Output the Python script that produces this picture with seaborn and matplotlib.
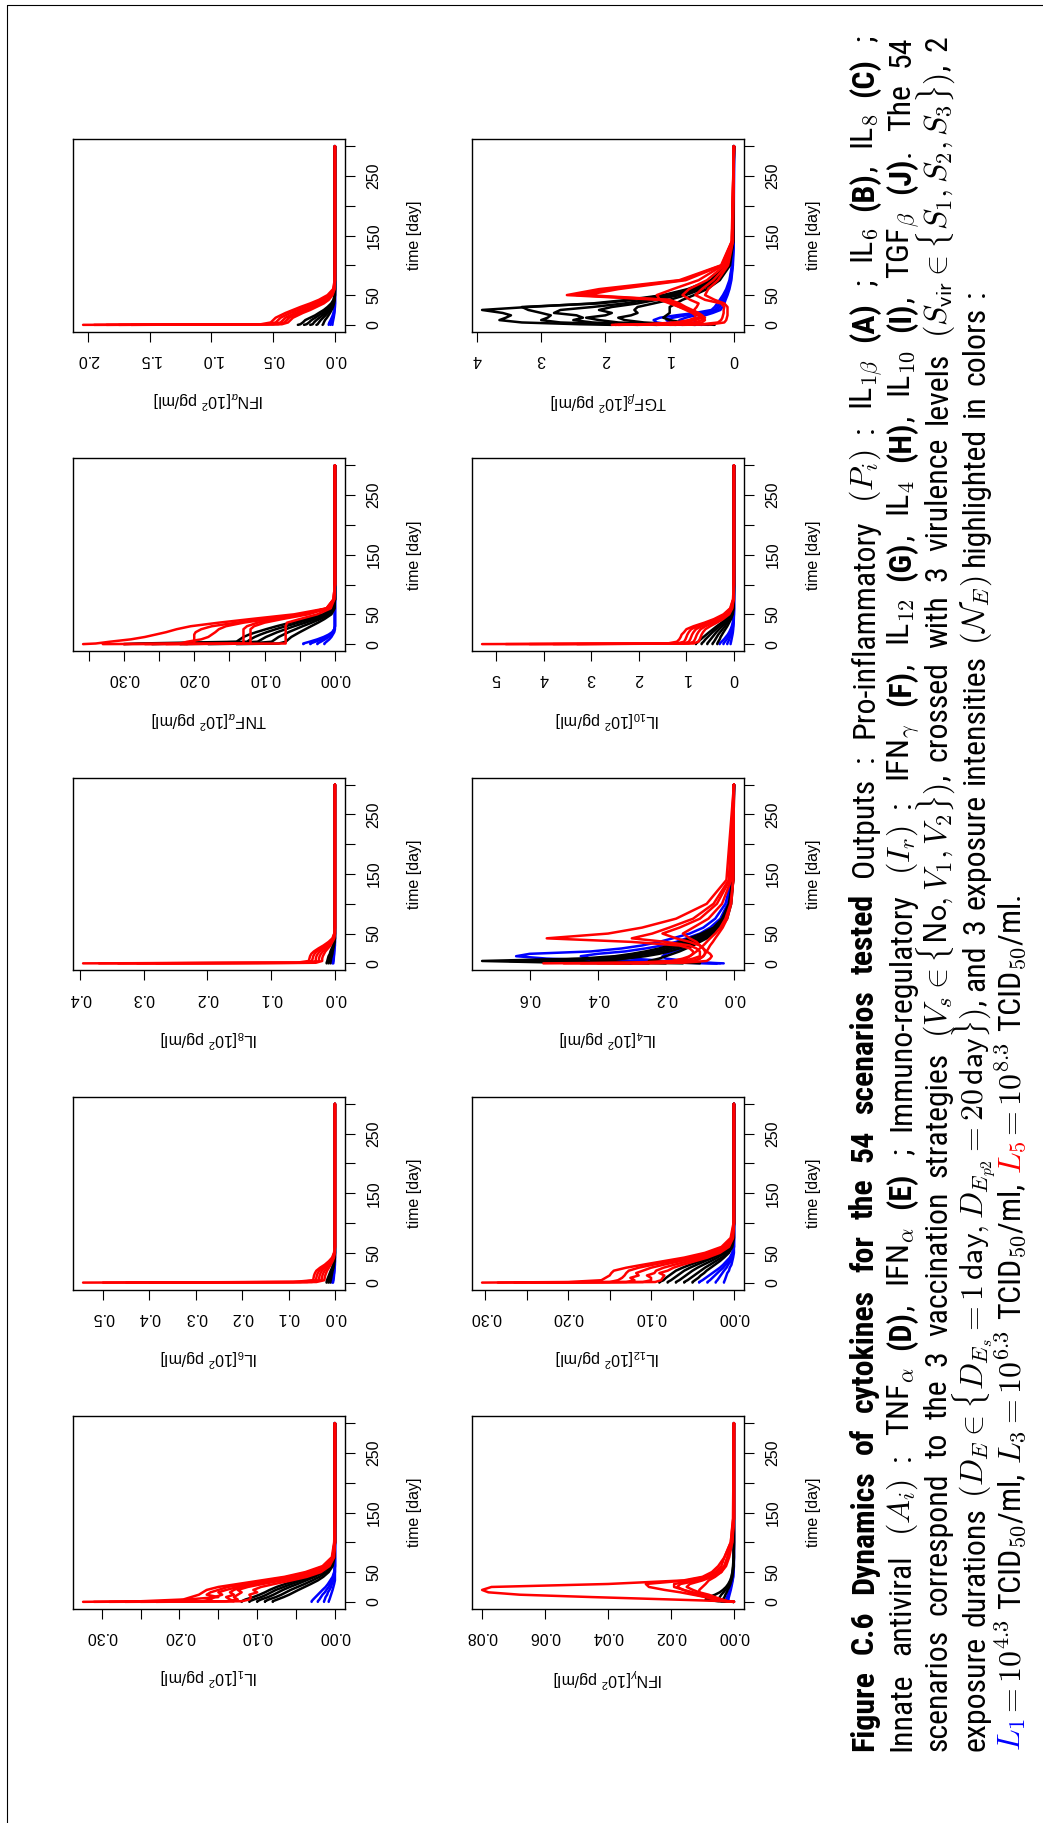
import re
import matplotlib
matplotlib.use("Agg")
import matplotlib.pyplot as plt
from matplotlib import font_manager
from matplotlib.lines import Line2D
import seaborn as sns

# time points (days) shared by every curve
TIME = [0, 1, 4, 8, 12, 16, 20, 25, 30, 36, 42, 50, 60, 75, 100, 140, 300]

# ---- IL1 (A) ----
IL1_RED = [
    [0.324, 0.25, 0.195, 0.185, 0.175, 0.17, 0.165, 0.15, 0.125, 0.095, 0.065, 0.038, 0.016, 0.004, 0.001, 0, 0],
    [0.31, 0.21, 0.19, 0.15, 0.165, 0.16, 0.15, 0.138, 0.115, 0.088, 0.06, 0.034, 0.014, 0.003, 0.0005, 0, 0],
    [0.29, 0.17, 0.16, 0.155, 0.145, 0.15, 0.14, 0.125, 0.105, 0.078, 0.053, 0.029, 0.011, 0.003, 0, 0, 0],
    [0.27, 0.14, 0.125, 0.13, 0.125, 0.12, 0.125, 0.112, 0.093, 0.068, 0.045, 0.024, 0.009, 0.002, 0, 0, 0],
    [0.25, 0.12, 0.11, 0.108, 0.11, 0.1, 0.105, 0.095, 0.078, 0.056, 0.036, 0.018, 0.007, 0.001, 0, 0, 0],
    [0.23, 0.13, 0.135, 0.14, 0.13, 0.135, 0.13, 0.12, 0.1, 0.074, 0.05, 0.027, 0.01, 0.002, 0, 0, 0],
]
IL1_BLACK = [
    [0.12, 0.12, 0.115, 0.105, 0.097, 0.09, 0.084, 0.075, 0.064, 0.05, 0.037, 0.022, 0.01, 0.003, 0.0005, 0, 0],
    [0.11, 0.11, 0.104, 0.095, 0.088, 0.082, 0.076, 0.066, 0.056, 0.043, 0.031, 0.018, 0.008, 0.002, 0, 0, 0],
    [0.1, 0.1, 0.095, 0.086, 0.079, 0.073, 0.067, 0.058, 0.048, 0.037, 0.026, 0.015, 0.006, 0.0015, 0, 0, 0],
    [0.09, 0.09, 0.085, 0.076, 0.069, 0.063, 0.057, 0.048, 0.039, 0.029, 0.02, 0.011, 0.004, 0.001, 0, 0, 0],
    [0.08, 0.08, 0.074, 0.066, 0.059, 0.053, 0.047, 0.039, 0.031, 0.022, 0.015, 0.008, 0.003, 0.0005, 0, 0, 0],
]
IL1_BLUE = [
    [0.03, 0.03, 0.028, 0.025, 0.022, 0.019, 0.016, 0.012, 0.009, 0.006, 0.003, 0.001, 0, 0, 0, 0, 0],
    [0.022, 0.022, 0.02, 0.018, 0.016, 0.013, 0.011, 0.008, 0.006, 0.004, 0.002, 0.0005, 0, 0, 0, 0, 0],
    [0.014, 0.014, 0.013, 0.012, 0.01, 0.009, 0.007, 0.005, 0.004, 0.002, 0.001, 0, 0, 0, 0, 0, 0],
    [0.008, 0.008, 0.007, 0.006, 0.005, 0.004, 0.003, 0.002, 0.001, 0, 0, 0, 0, 0, 0, 0, 0],
]

# ---- IL6 (B) ----
IL6_RED = [
    [0.543, 0.09, 0.047, 0.046, 0.045, 0.043, 0.04, 0.032, 0.022, 0.013, 0.006, 0.002, 0, 0, 0, 0, 0],
    [0.5, 0.075, 0.041, 0.04, 0.039, 0.037, 0.034, 0.027, 0.019, 0.011, 0.005, 0.0015, 0, 0, 0, 0, 0],
    [0.45, 0.06, 0.035, 0.034, 0.033, 0.031, 0.028, 0.022, 0.015, 0.009, 0.004, 0.001, 0, 0, 0, 0, 0],
    [0.4, 0.05, 0.029, 0.028, 0.027, 0.025, 0.022, 0.017, 0.012, 0.007, 0.003, 0.001, 0, 0, 0, 0, 0],
    [0.35, 0.04, 0.023, 0.022, 0.021, 0.019, 0.017, 0.013, 0.009, 0.005, 0.002, 0.0005, 0, 0, 0, 0, 0],
]
IL6_BLACK = [
    [0.018, 0.018, 0.017, 0.015, 0.013, 0.011, 0.009, 0.006, 0.004, 0.002, 0.001, 0, 0, 0, 0, 0, 0],
    [0.014, 0.014, 0.013, 0.012, 0.01, 0.008, 0.007, 0.005, 0.003, 0.0015, 0.0005, 0, 0, 0, 0, 0, 0],
    [0.01, 0.01, 0.009, 0.008, 0.007, 0.006, 0.005, 0.003, 0.002, 0.001, 0, 0, 0, 0, 0, 0, 0],
]
IL6_BLUE = [
    [0.006, 0.006, 0.005, 0.004, 0.003, 0.002, 0.0015, 0.001, 0.0005, 0, 0, 0, 0, 0, 0, 0, 0],
    [0.004, 0.004, 0.003, 0.0025, 0.002, 0.0015, 0.001, 0.0005, 0, 0, 0, 0, 0, 0, 0, 0, 0],
]

# ---- IL8 (C) ----
IL8_RED = [
    [0.395, 0.06, 0.041, 0.04, 0.039, 0.037, 0.033, 0.026, 0.018, 0.01, 0.004, 0.001, 0, 0, 0, 0, 0],
    [0.37, 0.05, 0.036, 0.035, 0.034, 0.032, 0.029, 0.022, 0.015, 0.008, 0.003, 0.001, 0, 0, 0, 0, 0],
    [0.34, 0.04, 0.03, 0.03, 0.029, 0.027, 0.024, 0.018, 0.012, 0.006, 0.002, 0.0005, 0, 0, 0, 0, 0],
    [0.31, 0.035, 0.025, 0.025, 0.024, 0.022, 0.019, 0.014, 0.009, 0.005, 0.002, 0, 0, 0, 0, 0, 0],
    [0.28, 0.03, 0.02, 0.02, 0.019, 0.017, 0.015, 0.011, 0.007, 0.004, 0.001, 0, 0, 0, 0, 0, 0],
]
IL8_BLACK = [
    [0.013, 0.013, 0.012, 0.011, 0.01, 0.008, 0.007, 0.005, 0.003, 0.0015, 0.0005, 0, 0, 0, 0, 0, 0],
    [0.01, 0.01, 0.009, 0.008, 0.007, 0.006, 0.005, 0.0035, 0.002, 0.001, 0, 0, 0, 0, 0, 0, 0],
    [0.007, 0.007, 0.0065, 0.006, 0.005, 0.004, 0.0035, 0.0025, 0.0015, 0.0005, 0, 0, 0, 0, 0, 0, 0],
]
IL8_BLUE = [
    [0.004, 0.004, 0.0035, 0.003, 0.0025, 0.002, 0.0015, 0.001, 0.0005, 0, 0, 0, 0, 0, 0, 0, 0],
    [0.0025, 0.0025, 0.002, 0.0018, 0.0015, 0.001, 0.0008, 0.0005, 0, 0, 0, 0, 0, 0, 0, 0, 0],
]

# ---- TNFa (D) ----
TNF_RED = [
    [0.358, 0.34, 0.32, 0.29, 0.27, 0.255, 0.24, 0.225, 0.205, 0.165, 0.12, 0.058, 0.012, 0.002, 0, 0, 0],
    [0.33, 0.2, 0.2, 0.2, 0.2, 0.2, 0.198, 0.19, 0.175, 0.14, 0.1, 0.048, 0.01, 0.0015, 0, 0, 0],
    [0.3, 0.13, 0.13, 0.13, 0.13, 0.13, 0.13, 0.13, 0.125, 0.11, 0.085, 0.045, 0.012, 0.002, 0, 0, 0],
    [0.27, 0.12, 0.12, 0.12, 0.12, 0.12, 0.12, 0.12, 0.115, 0.1, 0.075, 0.038, 0.01, 0.001, 0, 0, 0],
    [0.24, 0.07, 0.07, 0.07, 0.07, 0.07, 0.07, 0.07, 0.07, 0.068, 0.05, 0.025, 0.006, 0.001, 0, 0, 0],
    [0.21, 0.22, 0.21, 0.19, 0.18, 0.175, 0.17, 0.165, 0.155, 0.13, 0.095, 0.045, 0.011, 0.002, 0, 0, 0],
]
TNF_BLACK = [
    [0.3, 0.28, 0.14, 0.135, 0.13, 0.122, 0.112, 0.098, 0.083, 0.063, 0.042, 0.017, 0.003, 0, 0, 0, 0],
    [0.26, 0.22, 0.125, 0.12, 0.114, 0.106, 0.097, 0.084, 0.07, 0.052, 0.034, 0.013, 0.002, 0, 0, 0, 0],
    [0.22, 0.16, 0.11, 0.104, 0.098, 0.09, 0.082, 0.07, 0.058, 0.042, 0.027, 0.01, 0.0015, 0, 0, 0, 0],
    [0.18, 0.12, 0.09, 0.085, 0.08, 0.073, 0.066, 0.056, 0.046, 0.033, 0.021, 0.007, 0.001, 0, 0, 0, 0],
    [0.14, 0.08, 0.07, 0.066, 0.062, 0.056, 0.05, 0.042, 0.034, 0.024, 0.015, 0.005, 0.0005, 0, 0, 0, 0],
]
TNF_BLUE = [
    [0.045, 0.045, 0.036, 0.025, 0.016, 0.009, 0.004, 0.001, 0, 0, 0, 0, 0, 0, 0, 0, 0],
    [0.035, 0.035, 0.028, 0.019, 0.012, 0.007, 0.003, 0.001, 0, 0, 0, 0, 0, 0, 0, 0, 0],
    [0.025, 0.025, 0.02, 0.014, 0.009, 0.005, 0.002, 0.0005, 0, 0, 0, 0, 0, 0, 0, 0, 0],
    [0.015, 0.015, 0.012, 0.008, 0.005, 0.003, 0.001, 0, 0, 0, 0, 0, 0, 0, 0, 0, 0],
]

# ---- IFNa (E) ----
IFNA_RED = [
    [2.04, 0.6, 0.52, 0.5, 0.48, 0.44, 0.4, 0.34, 0.28, 0.2, 0.13, 0.06, 0.015, 0.002, 0, 0, 0],
    [1.95, 0.55, 0.48, 0.46, 0.44, 0.4, 0.36, 0.3, 0.24, 0.17, 0.1, 0.045, 0.01, 0.001, 0, 0, 0],
    [1.85, 0.5, 0.44, 0.42, 0.4, 0.36, 0.32, 0.26, 0.2, 0.14, 0.08, 0.035, 0.008, 0, 0, 0, 0],
    [1.75, 0.46, 0.41, 0.39, 0.37, 0.33, 0.29, 0.23, 0.17, 0.11, 0.06, 0.025, 0.005, 0, 0, 0, 0],
    [1.65, 0.43, 0.38, 0.36, 0.34, 0.3, 0.26, 0.2, 0.15, 0.09, 0.05, 0.02, 0.003, 0, 0, 0, 0],
]
IFNA_BLACK = [
    [0.3, 0.28, 0.26, 0.24, 0.2, 0.16, 0.13, 0.09, 0.06, 0.03, 0.012, 0.003, 0, 0, 0, 0, 0],
    [0.25, 0.23, 0.21, 0.19, 0.16, 0.13, 0.1, 0.07, 0.045, 0.022, 0.008, 0.002, 0, 0, 0, 0, 0],
    [0.2, 0.18, 0.17, 0.15, 0.125, 0.1, 0.078, 0.053, 0.033, 0.016, 0.006, 0.001, 0, 0, 0, 0, 0],
    [0.15, 0.14, 0.13, 0.115, 0.095, 0.076, 0.058, 0.039, 0.024, 0.011, 0.004, 0, 0, 0, 0, 0, 0],
    [0.1, 0.095, 0.09, 0.08, 0.065, 0.052, 0.04, 0.027, 0.016, 0.007, 0.002, 0, 0, 0, 0, 0, 0],
]
IFNA_BLUE = [
    [0.05, 0.05, 0.045, 0.035, 0.026, 0.018, 0.012, 0.006, 0.002, 0, 0, 0, 0, 0, 0, 0, 0],
    [0.035, 0.035, 0.03, 0.024, 0.018, 0.012, 0.008, 0.004, 0.001, 0, 0, 0, 0, 0, 0, 0, 0],
    [0.02, 0.02, 0.018, 0.014, 0.01, 0.007, 0.004, 0.002, 0, 0, 0, 0, 0, 0, 0, 0, 0],
]

# ---- IFNg (F) ----
IFNG_RED = [
    [0.0, 0.002, 0.02, 0.045, 0.068, 0.078, 0.08, 0.077, 0.04, 0.016, 0.01, 0.007, 0.005, 0.003, 0.001, 0.0003, 0],
    [0.0, 0.002, 0.005, 0.009, 0.013, 0.017, 0.022, 0.027, 0.028, 0.015, 0.009, 0.006, 0.004, 0.003, 0.001, 0.0002, 0],
    [0.0, 0.002, 0.004, 0.007, 0.01, 0.013, 0.016, 0.019, 0.019, 0.012, 0.008, 0.005, 0.003, 0.002, 0.0008, 0, 0],
    [0.0, 0.002, 0.004, 0.006, 0.008, 0.011, 0.013, 0.015, 0.014, 0.01, 0.007, 0.004, 0.003, 0.002, 0.0006, 0, 0],
    [0.0, 0.002, 0.005, 0.008, 0.01, 0.011, 0.011, 0.01, 0.009, 0.008, 0.006, 0.004, 0.0025, 0.0015, 0.0005, 0, 0],
    [0.0, 0.003, 0.006, 0.009, 0.012, 0.014, 0.016, 0.018, 0.017, 0.011, 0.008, 0.005, 0.003, 0.002, 0.0007, 0, 0],
]
IFNG_BLACK = [
    [0.0, 0.005, 0.009, 0.008, 0.006, 0.0045, 0.0035, 0.0025, 0.0018, 0.0012, 0.0008, 0.0005, 0.0003, 0.0001, 0, 0, 0],
    [0.0, 0.004, 0.005, 0.0045, 0.004, 0.0033, 0.0027, 0.002, 0.0015, 0.001, 0.0007, 0.0004, 0.0002, 0.0001, 0, 0, 0],
    [0.0, 0.003, 0.0035, 0.003, 0.0027, 0.0023, 0.002, 0.0015, 0.0011, 0.0008, 0.0005, 0.0003, 0.0001, 0, 0, 0, 0],
]
IFNG_BLUE = [
    [0.0, 0.002, 0.0025, 0.0022, 0.0019, 0.0016, 0.0013, 0.001, 0.0008, 0.0005, 0.0003, 0.0002, 0.0001, 0, 0, 0, 0],
    [0.0, 0.0015, 0.0018, 0.0016, 0.0014, 0.0012, 0.001, 0.0008, 0.0006, 0.0004, 0.0002, 0.0001, 0, 0, 0, 0, 0],
]

# ---- IL12 (G) ----
IL12_RED = [
    [0.304, 0.2, 0.16, 0.155, 0.15, 0.148, 0.145, 0.13, 0.11, 0.085, 0.06, 0.035, 0.015, 0.004, 0.0005, 0, 0],
    [0.285, 0.15, 0.14, 0.135, 0.132, 0.13, 0.127, 0.115, 0.098, 0.075, 0.053, 0.03, 0.012, 0.003, 0, 0, 0],
    [0.265, 0.13, 0.12, 0.125, 0.115, 0.118, 0.11, 0.1, 0.085, 0.065, 0.045, 0.025, 0.01, 0.002, 0, 0, 0],
    [0.245, 0.11, 0.1, 0.1, 0.105, 0.096, 0.094, 0.085, 0.072, 0.055, 0.038, 0.02, 0.008, 0.0015, 0, 0, 0],
    [0.225, 0.095, 0.088, 0.086, 0.084, 0.09, 0.08, 0.073, 0.062, 0.047, 0.032, 0.017, 0.006, 0.001, 0, 0, 0],
]
IL12_BLACK = [
    [0.09, 0.09, 0.085, 0.082, 0.078, 0.074, 0.07, 0.062, 0.053, 0.041, 0.03, 0.017, 0.007, 0.0015, 0, 0, 0],
    [0.08, 0.08, 0.076, 0.072, 0.068, 0.064, 0.06, 0.053, 0.045, 0.035, 0.025, 0.014, 0.006, 0.001, 0, 0, 0],
    [0.07, 0.07, 0.066, 0.062, 0.058, 0.054, 0.05, 0.044, 0.037, 0.028, 0.02, 0.011, 0.004, 0.001, 0, 0, 0],
    [0.06, 0.06, 0.056, 0.052, 0.048, 0.044, 0.04, 0.035, 0.029, 0.022, 0.015, 0.008, 0.003, 0.0005, 0, 0, 0],
    [0.05, 0.05, 0.047, 0.043, 0.04, 0.036, 0.033, 0.028, 0.023, 0.017, 0.012, 0.006, 0.002, 0, 0, 0, 0],
]
IL12_BLUE = [
    [0.042, 0.042, 0.038, 0.034, 0.03, 0.026, 0.022, 0.017, 0.013, 0.009, 0.005, 0.002, 0.0005, 0, 0, 0, 0],
    [0.032, 0.032, 0.029, 0.026, 0.023, 0.02, 0.017, 0.013, 0.01, 0.006, 0.004, 0.0015, 0, 0, 0, 0, 0],
    [0.022, 0.022, 0.02, 0.018, 0.016, 0.014, 0.012, 0.009, 0.007, 0.004, 0.002, 0.001, 0, 0, 0, 0, 0],
    [0.012, 0.012, 0.011, 0.01, 0.009, 0.008, 0.006, 0.005, 0.003, 0.002, 0.001, 0, 0, 0, 0, 0, 0],
]

# ---- IL4 (H) ----
IL4_RED = [
    [0.56, 0.3, 0.18, 0.14, 0.13, 0.12, 0.12, 0.13, 0.16, 0.3, 0.55, 0.37, 0.27, 0.17, 0.08, 0.022, 0],
    [0.5, 0.25, 0.15, 0.12, 0.1, 0.1, 0.1, 0.11, 0.13, 0.2, 0.3, 0.24, 0.19, 0.12, 0.06, 0.015, 0],
    [0.45, 0.2, 0.12, 0.1, 0.09, 0.085, 0.085, 0.09, 0.1, 0.13, 0.17, 0.21, 0.16, 0.1, 0.05, 0.012, 0],
    [0.4, 0.25, 0.18, 0.15, 0.13, 0.12, 0.11, 0.1, 0.09, 0.08, 0.07, 0.055, 0.04, 0.025, 0.01, 0.002, 0],
    [0.35, 0.2, 0.12, 0.1, 0.09, 0.085, 0.08, 0.075, 0.07, 0.062, 0.055, 0.045, 0.033, 0.02, 0.008, 0.002, 0],
    [0.3, 0.15, 0.08, 0.07, 0.065, 0.07, 0.08, 0.09, 0.1, 0.11, 0.13, 0.15, 0.12, 0.075, 0.035, 0.008, 0],
]
IL4_BLACK = [
    [0.3, 0.5, 0.74, 0.45, 0.35, 0.3, 0.26, 0.22, 0.19, 0.16, 0.13, 0.095, 0.06, 0.035, 0.015, 0.004, 0],
    [0.25, 0.45, 0.66, 0.42, 0.32, 0.27, 0.23, 0.2, 0.17, 0.14, 0.115, 0.085, 0.055, 0.03, 0.013, 0.003, 0],
    [0.2, 0.35, 0.55, 0.38, 0.3, 0.25, 0.21, 0.18, 0.15, 0.125, 0.1, 0.075, 0.048, 0.027, 0.011, 0.003, 0],
    [0.15, 0.25, 0.42, 0.32, 0.26, 0.22, 0.19, 0.16, 0.135, 0.11, 0.09, 0.066, 0.042, 0.023, 0.01, 0.002, 0],
    [0.1, 0.15, 0.25, 0.22, 0.2, 0.18, 0.16, 0.14, 0.12, 0.1, 0.08, 0.06, 0.038, 0.02, 0.008, 0.002, 0],
]
IL4_BLUE = [
    [0.05, 0.15, 0.35, 0.55, 0.64, 0.6, 0.42, 0.33, 0.27, 0.22, 0.18, 0.13, 0.09, 0.055, 0.025, 0.007, 0],
    [0.05, 0.12, 0.28, 0.42, 0.45, 0.4, 0.32, 0.26, 0.21, 0.17, 0.14, 0.1, 0.07, 0.04, 0.018, 0.005, 0],
    [0.04, 0.1, 0.2, 0.3, 0.32, 0.29, 0.25, 0.21, 0.17, 0.14, 0.11, 0.08, 0.055, 0.032, 0.014, 0.004, 0],
    [0.03, 0.08, 0.14, 0.2, 0.21, 0.2, 0.18, 0.15, 0.13, 0.11, 0.09, 0.065, 0.045, 0.026, 0.011, 0.003, 0],
]

# ---- IL10 (I) ----
IL10_RED = [
    [5.3, 1.4, 1.2, 1.15, 1.12, 1.1, 1.05, 1.0, 0.85, 0.62, 0.42, 0.22, 0.08, 0.02, 0.003, 0, 0],
    [4.8, 1.2, 1.05, 1.02, 1.0, 0.98, 0.95, 0.9, 0.77, 0.56, 0.37, 0.19, 0.07, 0.015, 0.002, 0, 0],
    [4.3, 1.05, 0.95, 0.92, 0.9, 0.88, 0.85, 0.8, 0.68, 0.5, 0.33, 0.16, 0.06, 0.012, 0.002, 0, 0],
    [3.8, 0.95, 0.85, 0.82, 0.8, 0.78, 0.75, 0.7, 0.6, 0.43, 0.28, 0.13, 0.045, 0.01, 0.001, 0, 0],
    [3.3, 0.85, 0.75, 0.72, 0.7, 0.68, 0.65, 0.6, 0.5, 0.36, 0.23, 0.1, 0.035, 0.008, 0, 0, 0],
]
IL10_BLACK = [
    [0.8, 0.8, 0.75, 0.7, 0.64, 0.58, 0.52, 0.44, 0.36, 0.26, 0.17, 0.08, 0.025, 0.005, 0, 0, 0],
    [0.68, 0.68, 0.64, 0.6, 0.55, 0.5, 0.45, 0.38, 0.31, 0.22, 0.14, 0.065, 0.02, 0.004, 0, 0, 0],
    [0.56, 0.56, 0.53, 0.49, 0.45, 0.41, 0.37, 0.31, 0.25, 0.18, 0.11, 0.05, 0.015, 0.003, 0, 0, 0],
    [0.45, 0.45, 0.42, 0.39, 0.36, 0.33, 0.29, 0.24, 0.19, 0.14, 0.085, 0.038, 0.011, 0.002, 0, 0, 0],
    [0.35, 0.35, 0.33, 0.3, 0.28, 0.25, 0.22, 0.18, 0.14, 0.1, 0.06, 0.026, 0.007, 0.001, 0, 0, 0],
]
IL10_BLUE = [
    [0.3, 0.3, 0.26, 0.21, 0.17, 0.13, 0.1, 0.07, 0.045, 0.025, 0.012, 0.004, 0, 0, 0, 0, 0],
    [0.22, 0.22, 0.19, 0.15, 0.12, 0.09, 0.07, 0.05, 0.03, 0.017, 0.008, 0.002, 0, 0, 0, 0, 0],
    [0.14, 0.14, 0.12, 0.1, 0.08, 0.06, 0.045, 0.03, 0.02, 0.01, 0.005, 0.001, 0, 0, 0, 0, 0],
    [0.07, 0.07, 0.06, 0.05, 0.04, 0.03, 0.022, 0.015, 0.01, 0.005, 0.002, 0, 0, 0, 0, 0, 0],
]

# ---- TGFb (J) ----
TGFB_RED = [
    [1.9, 1.4, 0.9, 0.7, 0.6, 0.6, 0.65, 0.75, 0.85, 0.95, 1.15, 2.6, 2.1, 0.85, 0.2, 0.035, 0],
    [1.85, 1.3, 0.85, 0.65, 0.55, 0.55, 0.6, 0.7, 0.8, 0.9, 1.05, 2.45, 1.95, 0.8, 0.19, 0.03, 0],
    [1.8, 1.2, 0.8, 0.6, 0.5, 0.5, 0.55, 0.65, 0.75, 0.85, 1.0, 2.3, 1.8, 0.75, 0.18, 0.03, 0],
    [1.5, 1.0, 0.6, 0.5, 0.45, 0.5, 0.6, 0.7, 0.85, 1.0, 1.15, 1.2, 0.95, 0.55, 0.17, 0.03, 0],
    [1.2, 0.8, 0.5, 0.45, 0.48, 0.55, 0.6, 0.62, 0.58, 0.55, 0.68, 0.8, 0.7, 0.42, 0.14, 0.025, 0],
    [1.0, 0.5, 0.25, 0.2, 0.18, 0.17, 0.16, 0.16, 0.15, 0.2, 0.45, 0.6, 0.5, 0.32, 0.11, 0.02, 0],
    [0.8, 0.35, 0.15, 0.12, 0.11, 0.1, 0.1, 0.1, 0.1, 0.15, 0.3, 0.45, 0.4, 0.25, 0.09, 0.015, 0],
]
TGFB_BLACK = [
    [1.9, 2.4, 3.3, 3.65, 3.55, 3.47, 3.6, 3.92, 3.2, 2.2, 1.65, 1.1, 0.72, 0.36, 0.11, 0.02, 0],
    [1.5, 1.9, 2.7, 3.0, 2.9, 2.85, 3.0, 3.2, 3.3, 2.1, 1.55, 1.05, 0.68, 0.34, 0.1, 0.02, 0],
    [1.2, 1.6, 2.2, 2.5, 2.35, 2.45, 2.8, 2.7, 2.2, 1.7, 1.35, 0.95, 0.62, 0.31, 0.09, 0.018, 0],
    [0.9, 1.2, 1.8, 2.1, 2.3, 2.0, 1.9, 2.1, 1.9, 1.5, 1.2, 0.85, 0.56, 0.28, 0.08, 0.015, 0],
    [0.6, 0.9, 1.4, 1.7, 1.8, 1.6, 1.5, 1.55, 1.5, 1.25, 1.0, 0.75, 0.5, 0.25, 0.07, 0.012, 0],
    [0.3, 0.5, 0.8, 1.0, 1.1, 1.05, 1.0, 1.0, 1.0, 0.9, 0.8, 0.62, 0.42, 0.22, 0.06, 0.01, 0],
]
TGFB_BLUE = [
    [0.8, 1.0, 1.2, 1.25, 1.15, 0.9, 0.6, 0.35, 0.3, 0.26, 0.22, 0.17, 0.12, 0.07, 0.03, 0.006, 0],
    [0.6, 0.8, 1.0, 1.05, 0.95, 0.75, 0.5, 0.3, 0.26, 0.22, 0.19, 0.15, 0.1, 0.06, 0.025, 0.005, 0],
    [0.5, 0.65, 0.8, 0.85, 0.75, 0.6, 0.42, 0.26, 0.22, 0.19, 0.16, 0.12, 0.085, 0.05, 0.02, 0.004, 0],
    [0.4, 0.5, 0.6, 0.62, 0.55, 0.45, 0.33, 0.21, 0.18, 0.15, 0.13, 0.1, 0.07, 0.04, 0.016, 0.003, 0],
]

# tick marks / labels on the concentration axis
TICKS_005 = [0, 0.05, 0.10, 0.15, 0.20, 0.25, 0.30]
LABELS_005 = ["0.00", "", "0.10", "", "0.20", "", "0.30"]
TNF_TICKS = [0, 0.05, 0.10, 0.15, 0.20, 0.25, 0.30, 0.35]
TNF_LABELS = ["0.00", "", "0.10", "", "0.20", "", "0.30", ""]
IL6_TICKS = [0, 0.1, 0.2, 0.3, 0.4, 0.5]
IL6_LABELS = ["0.0", "0.1", "0.2", "0.3", "0.4", "0.5"]
IL8_TICKS = [0, 0.1, 0.2, 0.3, 0.4]
IL8_LABELS = ["0.0", "0.1", "0.2", "0.3", "0.4"]
IFNA_TICKS = [0, 0.5, 1.0, 1.5, 2.0]
IFNA_LABELS = ["0.0", "0.5", "1.0", "1.5", "2.0"]
IFNG_TICKS = [0, 0.02, 0.04, 0.06, 0.08]
IFNG_LABELS = ["0.00", "0.02", "0.04", "0.06", "0.08"]
IL4_TICKS = [0, 0.2, 0.4, 0.6]
IL4_LABELS = ["0.0", "0.2", "0.4", "0.6"]
IL10_TICKS = [0, 1, 2, 3, 4, 5]
IL10_LABELS = ["0", "1", "2", "3", "4", "5"]
TGFB_TICKS = [0, 1, 2, 3, 4]
TGFB_LABELS = ["0", "1", "2", "3", "4"]
TIME_TICKS = [0, 50, 100, 150, 200, 250, 300]
TIME_LABELS = ["0", "50", "", "150", "", "250", ""]

CAPTION = [
    r"**Figure C.6 Dynamics of cytokines for the 54 scenarios tested** Outputs : Pro-inflammatory $(P_i)$ : IL$_{1\beta}$ **(A)** ; IL$_6$ **(B)**, IL$_8$ **(C)** ;",
    r"Innate antiviral $(A_i)$ : TNF$_\alpha$ **(D)**, IFN$_\alpha$ **(E)** ; Immuno-regulatory $(I_r)$ : IFN$_\gamma$ **(F)**, IL$_{12}$ **(G)**, IL$_4$ **(H)**, IL$_{10}$ **(I)**, TGF$_\beta$ **(J)**. The 54",
    r"scenarios correspond to the 3 vaccination strategies $(V_s\in\{\mathsf{No},V_1,V_2\})$, crossed with 3 virulence levels $(S_{\mathsf{vir}}\in\{S_1,S_2,S_3\})$, 2",
    r"exposure durations $(D_E\in\{D_{E_s}=1\,\mathsf{day},D_{E_{p2}}=20\,\mathsf{day}\})$, and 3 exposure intensities $(\mathcal{N}_E)$ highlighted in colors :",
    r"##$L_1$##$=10^{4.3}$ TCID$_{50}$/ml, $L_3=10^{6.3}$ TCID$_{50}$/ml, @@$L_5$@@$=10^{8.3}$ TCID$_{50}$/ml.",
]

W, H = 1043, 1823

sns.set_style("ticks")
plt.rcParams.update({
    "font.family": ["Liberation Sans", "DejaVu Sans"],
    "mathtext.fontset": "custom",
    "mathtext.rm": "Liberation Sans",
    "mathtext.it": "Liberation Sans:italic",
    "mathtext.bf": "Liberation Sans:bold",
    "axes.edgecolor": "black",
    "axes.linewidth": 1.0,
    "text.color": "black",
    "axes.labelcolor": "black",
    "xtick.color": "black",
    "ytick.color": "black",
})

fig = plt.figure(figsize=(W / 100, H / 100), dpi=100)
fig.patch.set_facecolor("white")


def draw_panel(col, row, red, black, blue, ticks, labels, name):
    left = [73, 472][col]
    top = 139 + 319.25 * row
    ax = fig.add_axes([left / W, 1 - (top + 193) / H, 272 / W, 193 / H])
    for curves, colour in ((blue, "#0000FF"), (black, "black"), (red, "#FF0000")):
        for vals in curves:
            sns.lineplot(x=vals, y=TIME, orient="y", sort=False, estimator=None,
                         color=colour, lw=1.8, ax=ax, legend=False)
    top_val = max(max(v) for group in (red, black, blue) for v in group)
    ax.set_xlim(1.04 * top_val, -0.04 * top_val)
    ax.set_ylim(-12, 312)
    ax.set_xticks(ticks)
    ax.set_xticklabels(labels, rotation=180, fontsize=11.5)
    ax.yaxis.tick_right()
    ax.set_yticks(TIME_TICKS)
    ax.set_yticklabels(TIME_LABELS, rotation=90, va="center", fontsize=11.5)
    ax.tick_params(axis="both", direction="out", length=7.5, width=0.8)
    ax.tick_params(axis="x", pad=7)
    ax.tick_params(axis="y", pad=8)
    ax.set_xlabel(name + "[10$^2$ pg/ml]", rotation=180, fontsize=11.5, labelpad=16)
    ax.yaxis.set_label_position("right")
    ax.set_ylabel("time [day]", rotation=90, fontsize=11.5, labelpad=18)
    for s in ax.spines.values():
        s.set_visible(True)
        s.set_color("black")
    return ax


draw_panel(0, 4, IL1_RED, IL1_BLACK, IL1_BLUE, TICKS_005, LABELS_005, "IL$_1$")
draw_panel(0, 3, IL6_RED, IL6_BLACK, IL6_BLUE, IL6_TICKS, IL6_LABELS, "IL$_6$")
draw_panel(0, 2, IL8_RED, IL8_BLACK, IL8_BLUE, IL8_TICKS, IL8_LABELS, "IL$_8$")
draw_panel(0, 1, TNF_RED, TNF_BLACK, TNF_BLUE, TNF_TICKS, TNF_LABELS, r"TNF$_\alpha$")
draw_panel(0, 0, IFNA_RED, IFNA_BLACK, IFNA_BLUE, IFNA_TICKS, IFNA_LABELS, r"IFN$_\alpha$")
draw_panel(1, 4, IFNG_RED, IFNG_BLACK, IFNG_BLUE, IFNG_TICKS, IFNG_LABELS, r"IFN$_\gamma$")
draw_panel(1, 3, IL12_RED, IL12_BLACK, IL12_BLUE, TICKS_005, LABELS_005, "IL$_{12}$")
draw_panel(1, 2, IL4_RED, IL4_BLACK, IL4_BLUE, IL4_TICKS, IL4_LABELS, "IL$_4$")
draw_panel(1, 1, IL10_RED, IL10_BLACK, IL10_BLUE, IL10_TICKS, IL10_LABELS, "IL$_{10}$")
draw_panel(1, 0, TGFB_RED, TGFB_BLACK, TGFB_BLUE, TGFB_TICKS, TGFB_LABELS, r"TGF$_\beta$")

# page frame (only top and left edges are inside the picture)
fig.add_artist(Line2D([6.5 / W, 6.5 / W], [0, 1 - 5 / H], transform=fig.transFigure, color="black", lw=0.8))
fig.add_artist(Line2D([6.5 / W, 1], [1 - 5 / H, 1 - 5 / H], transform=fig.transFigure, color="black", lw=0.8))

# ---- caption, rotated, reading bottom to top ----
names = {f.name for f in font_manager.fontManager.ttflist}
CAP_FONT = "Liberation Sans"
for cand in ["Liberation Sans Narrow", "Roboto Condensed", "Archivo Narrow", "Asap Condensed"]:
    if cand in names:
        CAP_FONT = cand
        break

STYLE = {
    "n": dict(color="black", fontweight="normal"),
    "b": dict(color="black", fontweight="bold"),
    "blue": dict(color="#0000FF", fontweight="normal"),
    "red": dict(color="#FF0000", fontweight="normal"),
}


def parse(line):
    style = "n"
    words = [[]]
    for part in re.split(r"(\*\*|##|@@)", line):
        if part == "**":
            style = "n" if style == "b" else "b"
        elif part == "##":
            style = "n" if style == "blue" else "blue"
        elif part == "@@":
            style = "n" if style == "red" else "red"
        elif part:
            bits = part.split(" ")
            for k, b in enumerate(bits):
                if k > 0:
                    words.append([])
                if b:
                    words[-1].append((b, style))
    return [w for w in words if w]


renderer = fig.canvas.get_renderer()


def piece_width(text, style, fs):
    t = fig.text(0, 0, text, fontsize=fs, family=CAP_FONT, math_fontfamily="cm", **STYLE[style])
    w = t.get_window_extent(renderer).width
    t.remove()
    return w


def all_widths(fs):
    return [[[piece_width(p, s, fs) for p, s in w] for w in words] for words in LINES]


LINES = [parse(l) for l in CAPTION]
BASE_X = [873, 910, 947, 984, 1021]
Y_START = 72
LINE_LEN = 1716
SPACE = 0.3

# size the caption so the justified lines need only a little extra word spacing
fs = 20.0
widths = all_widths(fs)
natural = [sum(sum(ws) for ws in wl) + SPACE * fs * 100 / 72 * (len(wl) - 1) for wl in widths]
fs = min(23.5, fs * LINE_LEN * 0.985 / max(natural[:3])) * 0.98
widths = all_widths(fs)

for i, (words, wl) in enumerate(zip(LINES, widths)):
    total = sum(sum(ws) for ws in wl)
    if i < 3:
        gap = (LINE_LEN - total) / (len(words) - 1)
    else:
        gap = SPACE * fs * 100 / 72
    y = Y_START
    for w, ws in zip(words, wl):
        for (p, s), pw in zip(w, ws):
            fig.text(BASE_X[i] / W, y / H, p, rotation=90, rotation_mode="anchor",
                     ha="left", va="baseline", fontsize=fs, family=CAP_FONT,
                     math_fontfamily="cm", **STYLE[s])
            y += pw
        y += gap

fig.savefig("out.png", dpi=100, facecolor="white")
